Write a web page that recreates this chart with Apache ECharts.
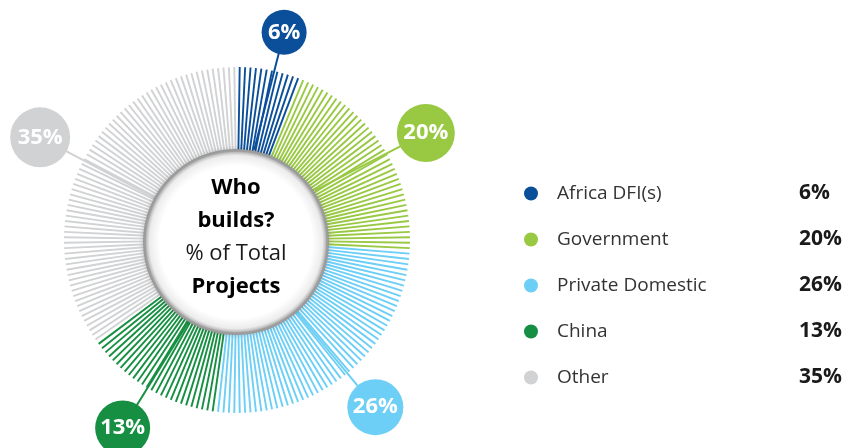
<!DOCTYPE html>
<html>
<head>
<meta charset="utf-8">
<script src="https://cdn.jsdelivr.net/npm/echarts@6/dist/echarts.min.js"></script>
<style>
  html, body { margin: 0; padding: 0; background: #ffffff; }
  #chart { width: 849px; height: 448px; }
</style>
</head>
<body>
<div id="chart"></div>
<script>
// Who builds? share of total projects by builder type
const categories = ['Africa DFI(s)', 'Government', 'Private Domestic', 'China', 'Other'];
const shares = [6, 20, 26, 13, 35];
const palette = ['#0b4f9a', '#99c943', '#6dcff6', '#178f42', '#d1d2d4'];

// Callout bubble layout: size (px), distance from centre (px), small angular shift (percent units)
const calloutSizes = [45, 58, 56, 55, 60];
const calloutRadii = [213, 217, 217, 220, 222];
const calloutShift = [0.55, 0.8, 0, 0.2, 0.15];

// Ring geometry (radius axis is in pixels: 0..POLAR_R)
const CENTER = [237, 240];
const HUB_CENTER = [236, 242];
const POLAR_R = 240;
const RING_INNER = 90;
const RING_OUTER = 173;
const LEADER_INNER = 92;
const LINES_PER_PERCENT = 2;
const FONT = '"Open Sans", "Noto Sans", sans-serif';

// Cumulative start of each category on a 0..100 angle scale
const starts = [];
shares.reduce((acc, v, i) => { starts[i] = acc; return acc + v; }, 0);
const mids = shares.map((v, i) => starts[i] + v / 2);

function spokeRender(params, api) {
  const a = api.value(1);
  const p0 = api.coord([RING_INNER, a]);
  const p1 = api.coord([RING_OUTER, a]);
  return {
    type: 'line',
    shape: { x1: p0[0], y1: p0[1], x2: p1[0], y2: p1[1] },
    style: { stroke: api.visual('color'), lineWidth: 1.9 }
  };
}

// Leader: from the inner ring edge at the segment middle out to its bubble
function leaderRender(params, api) {
  const i = params.dataIndex;
  const p0 = api.coord([LEADER_INNER, api.value(1)]);
  const p1 = api.coord([calloutRadii[i], api.value(1) + calloutShift[i]]);
  return {
    type: 'line',
    shape: { x1: p0[0], y1: p0[1], x2: p1[0], y2: p1[1] },
    style: { stroke: api.visual('color'), lineWidth: 2 }
  };
}

const spokeSeries = categories.map((name, i) => {
  const n = shares[i] * LINES_PER_PERCENT;
  const data = [];
  for (let k = 0; k < n; k++) {
    data.push([0, starts[i] + (k + 0.5) / LINES_PER_PERCENT]);
  }
  return {
    name: name,
    type: 'custom',
    coordinateSystem: 'polar',
    renderItem: spokeRender,
    itemStyle: { color: palette[i] },
    data: data,
    silent: true,
    z: 2
  };
});

const option = {
  animation: false,
  backgroundColor: '#ffffff',
  polar: { center: CENTER, radius: POLAR_R },
  angleAxis: { type: 'value', min: 0, max: 100, startAngle: 90, clockwise: true, show: false },
  radiusAxis: { type: 'value', min: 0, max: POLAR_R, show: false },
  legend: {
    data: categories.map(n => ({ name: n, icon: 'circle' })),
    orient: 'vertical',
    left: 519,
    top: 178,
    itemWidth: 14,
    itemHeight: 14,
    itemGap: 25,
    selectedMode: false,
    formatter: function (name) {
      const i = categories.indexOf(name);
      return '{n|' + name + '}{v|' + shares[i] + '%}';
    },
    textStyle: {
      rich: {
        n: { fontFamily: FONT, fontSize: 19, color: '#333333', width: 242, padding: [0, 0, 0, 14], lineHeight: 24 },
        v: { fontFamily: FONT, fontSize: 21, fontWeight: 'bold', color: '#1a1a1a', lineHeight: 24 }
      }
    }
  },
  series: [
    ...spokeSeries,
    {
      name: 'leaders',
      type: 'custom',
      coordinateSystem: 'polar',
      renderItem: leaderRender,
      silent: true,
      z: 3,
      data: mids.map((m, i) => ({ value: [0, m], itemStyle: { color: palette[i] } }))
    },
    {
      name: 'callouts',
      type: 'scatter',
      coordinateSystem: 'polar',
      silent: true,
      z: 4,
      data: mids.map((m, i) => ({
        value: [calloutRadii[i], m + calloutShift[i]],
        symbolSize: calloutSizes[i],
        itemStyle: { color: palette[i], opacity: 1 }
      })),
      label: {
        show: true,
        position: 'inside',
        formatter: p => shares[p.dataIndex] + '%',
        color: '#ffffff',
        fontFamily: FONT,
        fontWeight: 'bold',
        fontSize: 22
      }
    },
    {
      name: 'hub',
      type: 'pie',
      center: HUB_CENTER,
      radius: [0, 93],
      silent: true,
      z: 5,
      label: { show: false },
      labelLine: { show: false },
      data: [{
        value: 1,
        name: 'hub',
        itemStyle: {
          color: {
            type: 'radial', x: 0.5, y: 0.5, r: 0.5,
            colorStops: [
              { offset: 0, color: '#ffffff' },
              { offset: 0.82, color: '#ffffff' },
              { offset: 0.93, color: '#ececec' },
              { offset: 0.96, color: '#c4c4c4' },
              { offset: 0.975, color: '#a0a0a0' },
              { offset: 1, color: '#969696' }
            ]
          },
          shadowBlur: 5,
          shadowColor: 'rgba(0,0,0,0.2)'
        }
      }]
    }
  ],
  graphic: [{
    type: 'text',
    x: HUB_CENTER[0],
    y: HUB_CENTER[1] - 5,
    z: 100,
    style: {
      text: '{b|Who}\n{b|builds?}\n{r|% of Total}\n{b|Projects}',
      align: 'center',
      verticalAlign: 'middle',
      rich: {
        b: { fontFamily: FONT, fontSize: 22, fontWeight: 'bold', fill: '#000000', lineHeight: 33, align: 'center' },
        r: { fontFamily: FONT, fontSize: 22, fill: '#1a1a1a', lineHeight: 33, align: 'center' }
      }
    }
  }]
};

const chart = echarts.init(document.getElementById('chart'), null, { renderer: 'canvas' });
chart.setOption(option);
</script>
</body>
</html>
